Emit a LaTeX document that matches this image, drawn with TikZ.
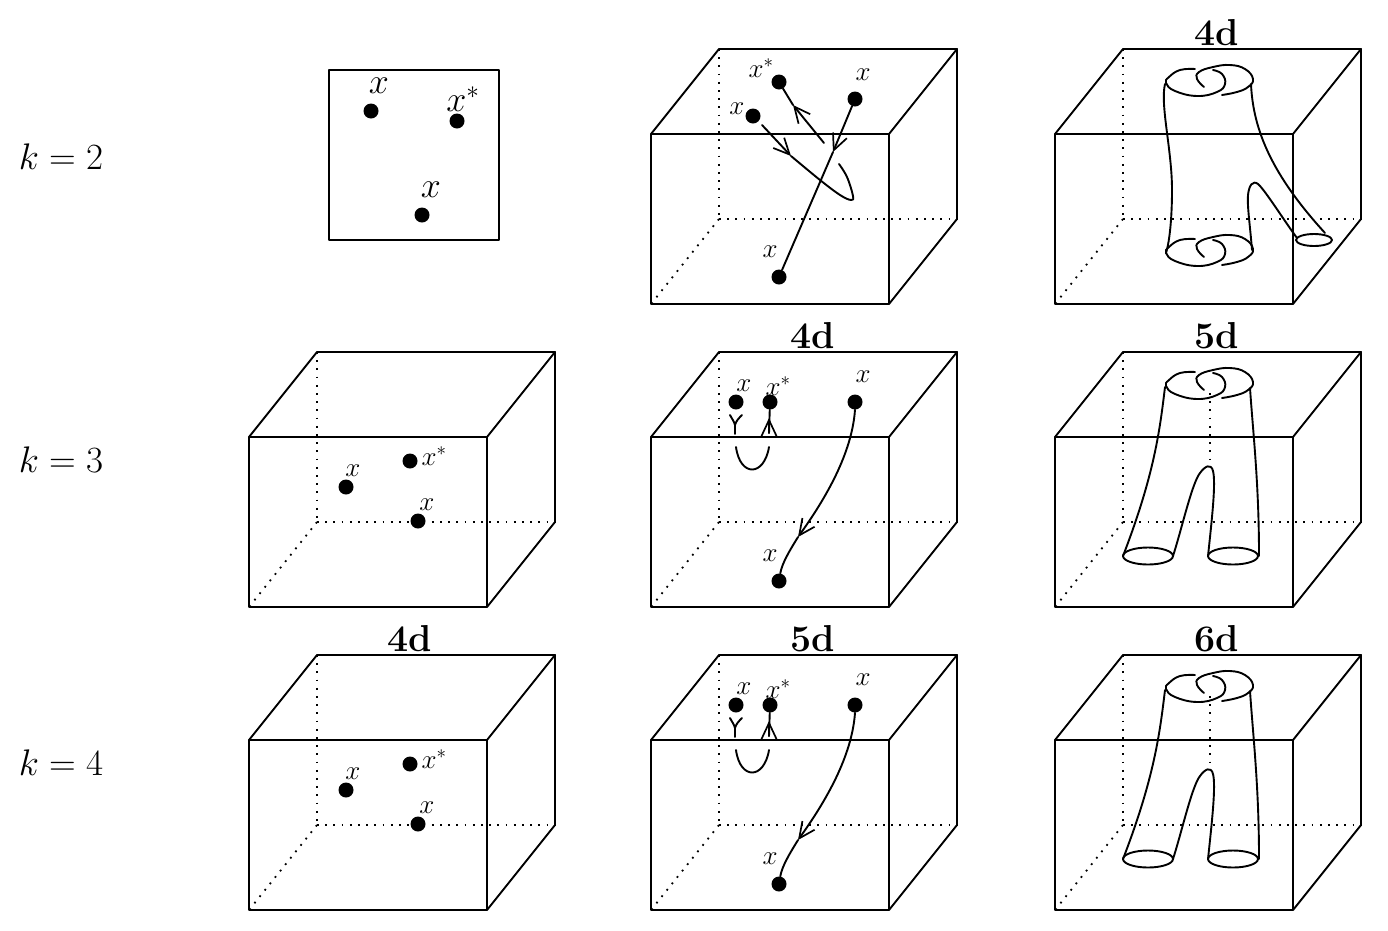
\documentclass[tikz,border=0pt]{standalone}
\usepackage{fix-cm}
\usetikzlibrary{arrows.meta}
\tikzset{
  pictstyle/.style={x=1pt,y=-1pt},
  ln/.style={line width=1.9pt,line cap=round,line join=round,black},
  dotln/.style={line width=1.8pt,black,dash pattern=on 1.8pt off 6.4pt},
  pt/.style={circle,fill=black,draw=none,inner sep=0pt,minimum size=15pt},
  lblS/.style={inner sep=0pt,font=\fontsize{27}{30}\selectfont},
  lblL/.style={inner sep=0pt,font=\fontsize{36}{39}\selectfont},
  head/.style={inner sep=0pt,font=\fontsize{37.5}{40}\selectfont\bfseries},
  kay/.style={inner sep=0pt,font=\fontsize{37}{40}\selectfont},
  ar/.style={-{Straight Barb[length=16pt,width=15pt,line width=1.7pt]}},
}
\newcommand{\cubeat}[2]{%
  \begin{scope}[shift={(#1,#2)}]
    \draw[dotln] (68,-85) -- (68,85);
    \draw[dotln] (68,85) -- (306,85);
    \draw[dotln] (68,85) -- (0,170);
    \draw[ln] (0,0) rectangle (238,170);
    \draw[ln] (0,0) -- (68,-85) -- (306,-85) -- (238,0);
    \draw[ln] (306,-85) -- (306,85) -- (238,170);
  \end{scope}}
\newcommand{\knotat}[1]{%
  \begin{scope}[shift={(0,#1)}]
    \draw[ln] plot[smooth,tension=0.75] coordinates {(1195,69) (1180,70) (1169,77) (1166,83) (1175,91) (1197,96) (1217,92) (1225,84) (1222,74) (1213,70)};
    \draw[ln] plot[smooth,tension=0.75] coordinates {(1204,87) (1197,79) (1199,72) (1213,67) (1230,65) (1245,69) (1253,79) (1248,87) (1237,92) (1222,95)};
  \end{scope}}
\newcommand{\pantsat}[1]{%
  \begin{scope}[shift={(0,#1)}]
    \draw[dotln] (1210,90) -- (1210,160);
    \draw[ln] (1165,84) .. controls (1160,125) and (1155,170) .. (1123,253);
    \draw[ln] (1173,253) .. controls (1182,225) and (1192,180) .. (1200,170) .. controls (1205,163) and (1211,160) .. (1213,168) .. controls (1216,180) and (1212,215) .. (1208,253);
    \draw[ln] (1250,85) .. controls (1253,130) and (1259,180) .. (1259,253);
    \draw[ln] (1148,253) ellipse [x radius=25,y radius=8.5];
    \draw[ln] (1233,253) ellipse [x radius=25,y radius=8.5];
  \end{scope}}
\newcommand{\ptsat}[2]{%
  \begin{scope}[shift={(0,#1)}]
    \node[pt] (p#2) at (346,184) {};
    \node[pt] (q#2) at (410,158) {};
    \node[pt] (r#2) at (418,218) {};
    \node[lblS] (lp#2) at (353,168) {$x$};
    \node[lblS] (lq#2) at (434,153) {$x^*$};
    \node[lblS] (lr#2) at (427,202) {$x$};
  \end{scope}}
\newcommand{\hopsat}[2]{%
  \begin{scope}[shift={(0,#1)}]
    \node[pt] (a#2) at (736,99) {};
    \node[pt] (b#2) at (770,99) {};
    \node[pt] (c#2) at (855,99) {};
    \node[pt] (d#2) at (779,278) {};
    \node[lblS] (la#2) at (744,83) {$x$};
    \node[lblS] (lb#2) at (778,83) {$x^*$};
    \node[lblS] (lc#2) at (863,74) {$x$};
    \node[lblS] (ld#2) at (770,253) {$x$};
    \coordinate (t#2) at (798,234);
    \coordinate (u#2) at (769,115);
    \coordinate (ue#2) at (769,130);
    \coordinate (v#2) at (735,122);
    \coordinate (ve#2) at (735,131);
    \coordinate (ws#2) at (736,144);
    \coordinate (we#2) at (769,144);
    \draw[ln,ar] (c#2.south) .. controls (852,150) and (826,195) .. (t#2);
    \draw[ln] (t#2) .. controls (790,247) and (782,260) .. (d#2);
    \draw[ln,ar] (ue#2) -- (u#2);
    \draw[ln] (b#2) -- (ue#2);
    \draw[ln] (730,112) .. controls (732,116) and (734,118) .. (v#2) .. controls (736,118) and (739,115) .. (742,112);
    \draw[ln] (v#2) -- (ve#2);
    \draw[ln] (ws#2) .. controls (740,174) and (764,174) .. (we#2);
  \end{scope}}
\begin{document}
\begin{tikzpicture}[pictstyle]
\useasboundingbox (0,0) rectangle (1388,930);
% row labels
\node[kay] (k2) at (61,157) {$k=2$};
\node[kay] (k3) at (61,460) {$k=3$};
\node[kay] (k4) at (61,763) {$k=4$};
% headings
\node[head] (h1) at (1217,33) {4d};
\node[head] (h2) at (813,336) {4d};
\node[head] (h3) at (1217,336) {5d};
\node[head] (h4) at (410,639) {4d};
\node[head] (h5) at (813,639) {5d};
\node[head] (h6) at (1217,639) {6d};
% square
\draw[ln] (329,70) rectangle (499,240);
\node[pt] (s1) at (371,111) {};
\node[pt] (s2) at (457,121) {};
\node[pt] (s3) at (422,215) {};
\node[lblL] (ls1) at (379,86) {$x$};
\node[lblL] (ls2) at (463,99) {$x^*$};
\node[lblL] (ls3) at (431,190) {$x$};
% cubes
\cubeat{651}{134}\cubeat{1055}{134}
\cubeat{249}{437}\cubeat{651}{437}\cubeat{1055}{437}
\cubeat{249}{740}\cubeat{651}{740}\cubeat{1055}{740}
% column 1 points
\ptsat{303}{A}
\ptsat{606}{B}
% column 2, row 1
\node[pt] (m1) at (779,82) {};
\node[pt] (m2) at (855,99) {};
\node[pt] (m3) at (753,116) {};
\node[pt] (m4) at (779,277) {};
\node[lblS] (lm1) at (761,68) {$x^*$};
\node[lblS] (lm2) at (863,75) {$x$};
\node[lblS] (lm3) at (737,109) {$x$};
\node[lblS] (lm4) at (770,252) {$x$};
\coordinate (mt1) at (793,105);
\coordinate (mt1e) at (824,143);
\coordinate (mt2) at (791,156);
\coordinate (mt3) at (833,152);
\draw[ln,ar] (mt1e) -- (mt1);
\draw[ln] (mt1) -- (m1);
\draw[ln,ar] (762,125) -- (mt2);
\draw[ln] plot[smooth,tension=0.6] coordinates {(mt2) (820,180) (840,195) (851,200) (853,196) (847,177) (839,164)};
\draw[ln,ar] (m2) -- (mt3);
\draw[ln] (mt3) -- (m4);
% column 2, rows 2-3
\hopsat{303}{A}
\hopsat{606}{B}
% column 3, row 1
\knotat{0}
\knotat{170}
\draw[ln] (1165,84) .. controls (1160,105) and (1172,150) .. (1172,190) .. controls (1172,215) and (1170,240) .. (1166,253);
\draw[ln] (1252,250) .. controls (1250,225) and (1247,205) .. (1248,195) .. controls (1249,185) and (1253,180) .. (1258,184) .. controls (1265,190) and (1285,222) .. (1297,238);
\draw[ln] (1251,84) .. controls (1253,130) and (1272,175) .. (1325,233);
\draw[ln] (1314,240) ellipse [x radius=18,y radius=6];
% column 3, rows 2-3
\knotat{303}\pantsat{303}
\knotat{606}\pantsat{606}
\end{tikzpicture}
\end{document}
